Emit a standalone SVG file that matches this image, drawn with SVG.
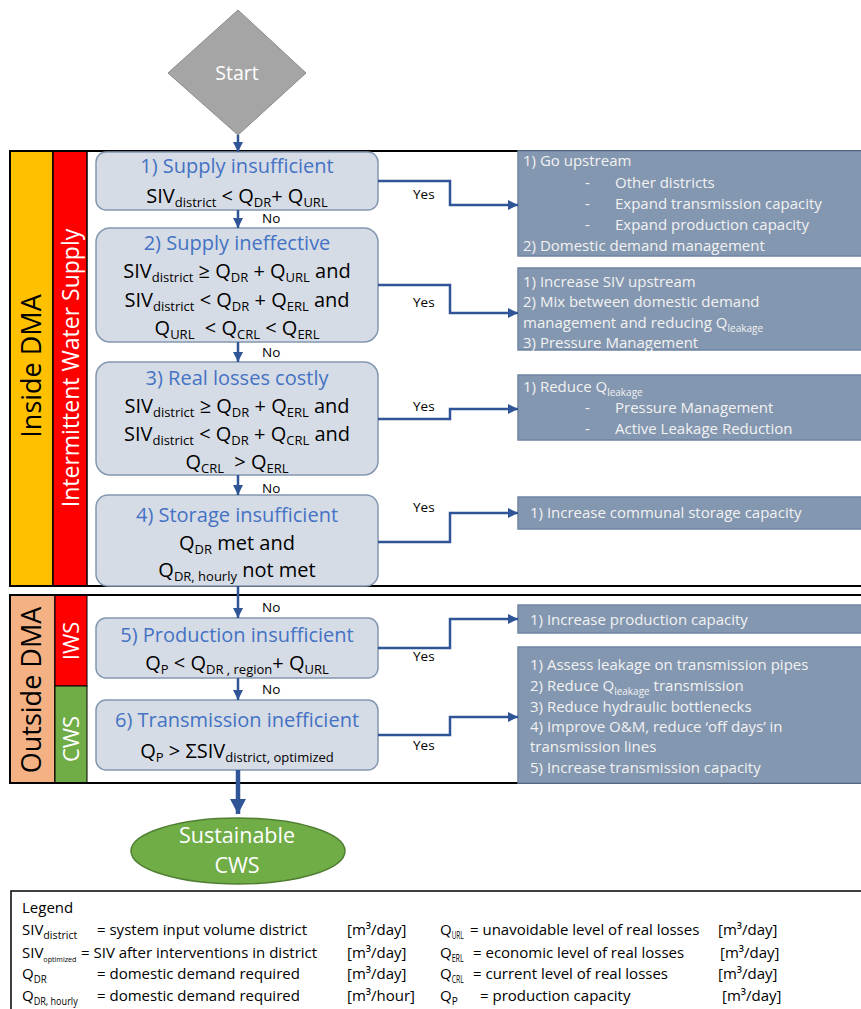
<svg xmlns="http://www.w3.org/2000/svg" width="861" height="1009" viewBox="0 0 861 1009">
  <style>
    text { font-family: "Open Sans", "Liberation Sans", sans-serif; }
    .box { fill: #d6dce5; stroke: #8497b0; stroke-width: 1.5; }
    .act { fill: #8497b0; stroke: #6f84a3; stroke-width: 1.5; }
    .title { font-size: 20px; fill: #4472c4; text-anchor: middle; }
    .f { font-size: 20px; fill: #000; text-anchor: middle; }
    .s { font-size: 13px; }
    .at { font-size: 15px; fill: #f2f2f2; }
    .as { font-size: 10px; }
    .lbl { font-size: 13.5px; fill: #000; }
    .lg { font-size: 15px; fill: #000; }
    .ls { font-size: 10px; }
    .ls8 { font-size: 8px; }
    .side { text-anchor: middle; }
    .conn { fill: none; stroke: #2f5597; stroke-width: 2.5; }
  </style>
  <defs>
    <marker id="ah" markerUnits="userSpaceOnUse" markerWidth="10" markerHeight="10" viewBox="0 0 10 10" refX="10" refY="5" orient="auto">
      <path d="M0,0 L10,5 L0,10 z" fill="#2f5597"/>
    </marker>
    <marker id="ahb" markerUnits="userSpaceOnUse" markerWidth="16" markerHeight="16" viewBox="0 0 16 16" refX="15" refY="8" orient="auto">
      <path d="M0,0 L15,8 L0,16 z" fill="#2f5597"/>
    </marker>
  </defs>

  <!-- section bands and frames -->
  <g id="inside-dma">
    <rect x="10" y="151" width="43" height="435" fill="#ffc000" stroke="#000" stroke-width="1.5"/>
    <rect x="53" y="151" width="34" height="435" fill="#ff0000" stroke="#000" stroke-width="1.5"/>
    <rect x="10" y="151" width="870" height="435" fill="none" stroke="#000" stroke-width="2"/>
    <text class="side" transform="translate(41,366) rotate(-90)" font-size="27" fill="#000">Inside DMA</text>
    <text class="side" transform="translate(79,368) rotate(-90)" font-size="23" fill="#fff">Intermittent Water Supply</text>
  </g>
  <g id="outside-dma">
    <rect x="10" y="595" width="45" height="188" fill="#f4b183" stroke="#000" stroke-width="1.5"/>
    <rect x="55" y="595" width="32" height="91" fill="#ff0000" stroke="#000" stroke-width="1"/>
    <rect x="55" y="686" width="32" height="97" fill="#70ad47" stroke="#000" stroke-width="1"/>
    <rect x="10" y="595" width="870" height="188" fill="none" stroke="#000" stroke-width="2"/>
    <text class="side" transform="translate(41,690) rotate(-90)" font-size="27" fill="#000">Outside DMA</text>
    <text class="side" transform="translate(79,641) rotate(-90)" font-size="22" fill="#fff">IWS</text>
    <text class="side" transform="translate(79,739) rotate(-90)" font-size="22" fill="#fff">CWS</text>
  </g>

  <!-- start -->
  <g id="start">
    <polygon points="238,10 306,73 238,135 168,73" fill="#a5a5a5" stroke="#8c8c8c" stroke-width="1"/>
    <text x="237" y="80" font-size="19.5" fill="#fff" text-anchor="middle">Start</text>
  </g>

  <!-- decision boxes -->
  <g id="check-1">
    <rect class="box" x="96" y="152" width="282" height="58" rx="10"/>
    <text class="title" x="237" y="173">1) Supply insufficient</text>
    <text class="f" x="237" y="203">SIV<tspan class="s" dy="4">district</tspan><tspan dy="-4"> &lt; Q</tspan><tspan class="s" dy="4">DR</tspan><tspan dy="-4">+ Q</tspan><tspan class="s" dy="4">URL</tspan></text>
  </g>
  <g id="check-2">
    <rect class="box" x="96" y="228" width="282" height="114" rx="14"/>
    <text class="title" x="237" y="250">2) Supply ineffective</text>
    <text class="f" x="237" y="278">SIV<tspan class="s" dy="4">district</tspan><tspan dy="-4"> ≥ Q</tspan><tspan class="s" dy="4">DR</tspan><tspan dy="-4"> + Q</tspan><tspan class="s" dy="4">URL</tspan><tspan dy="-4"> and</tspan></text>
    <text class="f" x="237" y="307">SIV<tspan class="s" dy="4">district</tspan><tspan dy="-4"> &lt; Q</tspan><tspan class="s" dy="4">DR</tspan><tspan dy="-4"> + Q</tspan><tspan class="s" dy="4">ERL</tspan><tspan dy="-4"> and</tspan></text>
    <text class="f" x="237" y="335">Q<tspan class="s" dy="4">URL</tspan><tspan dy="-4">&#160; &lt; Q</tspan><tspan class="s" dy="4">CRL</tspan><tspan dy="-4"> &lt; Q</tspan><tspan class="s" dy="4">ERL</tspan></text>
  </g>
  <g id="check-3">
    <rect class="box" x="96" y="362" width="282" height="113" rx="14"/>
    <text class="title" x="237" y="385">3) Real losses costly</text>
    <text class="f" x="237" y="413">SIV<tspan class="s" dy="4">district</tspan><tspan dy="-4"> ≥ Q</tspan><tspan class="s" dy="4">DR</tspan><tspan dy="-4"> + Q</tspan><tspan class="s" dy="4">ERL</tspan><tspan dy="-4"> and</tspan></text>
    <text class="f" x="237" y="441">SIV<tspan class="s" dy="4">district</tspan><tspan dy="-4"> &lt; Q</tspan><tspan class="s" dy="4">DR</tspan><tspan dy="-4"> + Q</tspan><tspan class="s" dy="4">CRL</tspan><tspan dy="-4"> and</tspan></text>
    <text class="f" x="237" y="469">Q<tspan class="s" dy="4">CRL</tspan><tspan dy="-4">&#160; &gt; Q</tspan><tspan class="s" dy="4">ERL</tspan></text>
  </g>
  <g id="check-4">
    <rect class="box" x="96" y="495" width="282" height="91" rx="12"/>
    <text class="title" x="237" y="522">4) Storage insufficient</text>
    <text class="f" x="237" y="550">Q<tspan class="s" dy="4">DR</tspan><tspan dy="-4"> met and</tspan></text>
    <text class="f" x="237" y="577">Q<tspan class="s" dy="4">DR, hourly</tspan><tspan dy="-4"> not met</tspan></text>
  </g>
  <g id="check-5">
    <rect class="box" x="96" y="618" width="282" height="60" rx="10"/>
    <text class="title" x="237" y="642">5) Production insufficient</text>
    <text class="f" x="237" y="670">Q<tspan class="s" dy="4">P</tspan><tspan dy="-4"> &lt; Q</tspan><tspan class="s" dy="4">DR , region</tspan><tspan dy="-4">+ Q</tspan><tspan class="s" dy="4">URL</tspan></text>
  </g>
  <g id="check-6">
    <rect class="box" x="96" y="700" width="282" height="70" rx="10"/>
    <text class="title" x="237" y="727">6) Transmission inefficient</text>
    <text class="f" x="237" y="758">Q<tspan class="s" dy="4">P</tspan><tspan dy="-4"> &gt; ΣSIV</tspan><tspan class="s" dy="4">district, optimized</tspan></text>
  </g>

  <!-- end -->
  <g id="end">
    <ellipse cx="238" cy="851" rx="107" ry="33" fill="#70ad47" stroke="#507e32" stroke-width="1.5"/>
    <text x="237" y="843" font-size="21.5" fill="#fff" text-anchor="middle">Sustainable</text>
    <text x="237" y="873" font-size="21.5" fill="#fff" text-anchor="middle">CWS</text>
  </g>

  <!-- action boxes -->
  <g id="action-1">
    <rect class="act" x="518" y="151" width="360" height="105"/>
    <text class="at" x="523" y="166">1) Go upstream</text>
    <text class="at" x="585" y="188">-</text><text class="at" x="615" y="188">Other districts</text>
    <text class="at" x="585" y="209">-</text><text class="at" x="615" y="209">Expand transmission capacity</text>
    <text class="at" x="585" y="230">-</text><text class="at" x="615" y="230">Expand production capacity</text>
    <text class="at" x="523" y="251">2) Domestic demand management</text>
  </g>
  <g id="action-2">
    <rect class="act" x="518" y="268" width="360" height="82"/>
    <text class="at" x="523" y="287">1) Increase SIV upstream</text>
    <text class="at" x="523" y="307">2) Mix between domestic demand</text>
    <text class="at" x="523" y="328">management and reducing Q<tspan class="as" dy="4">leakage</tspan></text>
    <text class="at" x="523" y="348">3) Pressure Management</text>
  </g>
  <g id="action-3">
    <rect class="act" x="518" y="375" width="360" height="65"/>
    <text class="at" x="523" y="392">1) Reduce Q<tspan class="as" dy="4">leakage</tspan></text>
    <text class="at" x="585" y="413">-</text><text class="at" x="615" y="413">Pressure Management</text>
    <text class="at" x="585" y="434">-</text><text class="at" x="615" y="434">Active Leakage Reduction</text>
  </g>
  <g id="action-4">
    <rect class="act" x="518" y="497" width="360" height="32"/>
    <text class="at" x="530" y="518">1) Increase communal storage capacity</text>
  </g>
  <g id="action-5">
    <rect class="act" x="518" y="605" width="360" height="28"/>
    <text class="at" x="530" y="625">1) Increase production capacity</text>
  </g>
  <g id="action-6">
    <rect class="act" x="518" y="647" width="360" height="136"/>
    <text class="at" x="530" y="670">1) Assess leakage on transmission pipes</text>
    <text class="at" x="530" y="691">2) Reduce Q<tspan class="as" dy="4">leakage</tspan><tspan dy="-4"> transmission</tspan></text>
    <text class="at" x="530" y="712">3) Reduce hydraulic bottlenecks</text>
    <text class="at" x="530" y="732">4) Improve O&amp;M, reduce ‘off days’ in</text>
    <text class="at" x="530" y="752">transmission lines</text>
    <text class="at" x="530" y="773">5) Increase transmission capacity</text>
  </g>

  <!-- connectors -->
  <g id="connectors">
    <line class="conn" x1="238" y1="135" x2="238" y2="152" marker-end="url(#ah)"/>
    <line class="conn" x1="238" y1="210" x2="238" y2="228" marker-end="url(#ah)"/>
    <line class="conn" x1="238" y1="342" x2="238" y2="362" marker-end="url(#ah)"/>
    <line class="conn" x1="238" y1="475" x2="238" y2="495" marker-end="url(#ah)"/>
    <line class="conn" x1="238" y1="586" x2="238" y2="618" marker-end="url(#ah)"/>
    <line class="conn" x1="238" y1="678" x2="238" y2="700" marker-end="url(#ah)"/>
    <line x1="238" y1="770" x2="238" y2="814" fill="none" stroke="#2f5597" stroke-width="4.5" marker-end="url(#ahb)"/>

    <polyline class="conn" points="378,181 450,181 450,205 518,205" marker-end="url(#ah)"/>
    <polyline class="conn" points="378,285 450,285 450,313 518,313" marker-end="url(#ah)"/>
    <polyline class="conn" points="378,419 450,419 450,409 518,409" marker-end="url(#ah)"/>
    <polyline class="conn" points="378,542 450,542 450,513 518,513" marker-end="url(#ah)"/>
    <polyline class="conn" points="378,648 450,648 450,619 518,619" marker-end="url(#ah)"/>
    <polyline class="conn" points="378,735 450,735 450,717 518,717" marker-end="url(#ah)"/>

    <text class="lbl" x="262" y="223">No</text>
    <text class="lbl" x="262" y="357">No</text>
    <text class="lbl" x="262" y="493">No</text>
    <text class="lbl" x="262" y="612">No</text>
    <text class="lbl" x="262" y="694">No</text>
    <text class="lbl" x="413" y="199">Yes</text>
    <text class="lbl" x="413" y="307">Yes</text>
    <text class="lbl" x="413" y="411">Yes</text>
    <text class="lbl" x="413" y="512">Yes</text>
    <text class="lbl" x="413" y="661">Yes</text>
    <text class="lbl" x="413" y="750">Yes</text>
  </g>

  <!-- legend -->
  <g id="legend">
    <rect x="11" y="891" width="870" height="140" fill="#fff" stroke="#000" stroke-width="1.5"/>
    <text class="lg" x="22" y="913">Legend</text>
    <text class="lg" x="22" y="935">SIV<tspan class="ls" dy="4" textLength="34" lengthAdjust="spacingAndGlyphs">district</tspan></text>
    <text class="lg" x="97" y="935">= system input volume district</text>
    <text class="lg" x="347" y="935">[m³/day]</text>
    <text class="lg" x="22" y="958">SIV<tspan class="ls8" dy="4" textLength="33" lengthAdjust="spacingAndGlyphs">optimized</tspan></text>
    <text class="lg" x="81" y="958">= SIV after interventions in district</text>
    <text class="lg" x="347" y="958">[m³/day]</text>
    <text class="lg" x="22" y="979">Q<tspan class="ls" dy="4" textLength="13" lengthAdjust="spacingAndGlyphs">DR</tspan></text>
    <text class="lg" x="97" y="979">= domestic demand required</text>
    <text class="lg" x="347" y="979">[m³/day]</text>
    <text class="lg" x="22" y="1001">Q<tspan class="ls" dy="4" textLength="44" lengthAdjust="spacingAndGlyphs">DR, hourly</tspan></text>
    <text class="lg" x="97" y="1001">= domestic demand required</text>
    <text class="lg" x="347" y="1001">[m³/hour]</text>

    <text class="lg" x="440" y="935">Q<tspan class="ls" dy="4" textLength="12" lengthAdjust="spacingAndGlyphs">URL</tspan></text>
    <text class="lg" x="470" y="935">= unavoidable level of real losses</text>
    <text class="lg" x="718" y="935">[m³/day]</text>
    <text class="lg" x="440" y="958">Q<tspan class="ls" dy="4" textLength="12" lengthAdjust="spacingAndGlyphs">ERL</tspan></text>
    <text class="lg" x="473" y="958">= economic level of real losses</text>
    <text class="lg" x="720" y="958">[m³/day]</text>
    <text class="lg" x="440" y="979">Q<tspan class="ls" dy="4" textLength="12" lengthAdjust="spacingAndGlyphs">CRL</tspan></text>
    <text class="lg" x="473" y="979">= current level of real losses</text>
    <text class="lg" x="718" y="979">[m³/day]</text>
    <text class="lg" x="440" y="1001">Q<tspan class="ls" dy="4">P</tspan></text>
    <text class="lg" x="480" y="1001">= production capacity</text>
    <text class="lg" x="722" y="1001">[m³/day]</text>
  </g>
</svg>
